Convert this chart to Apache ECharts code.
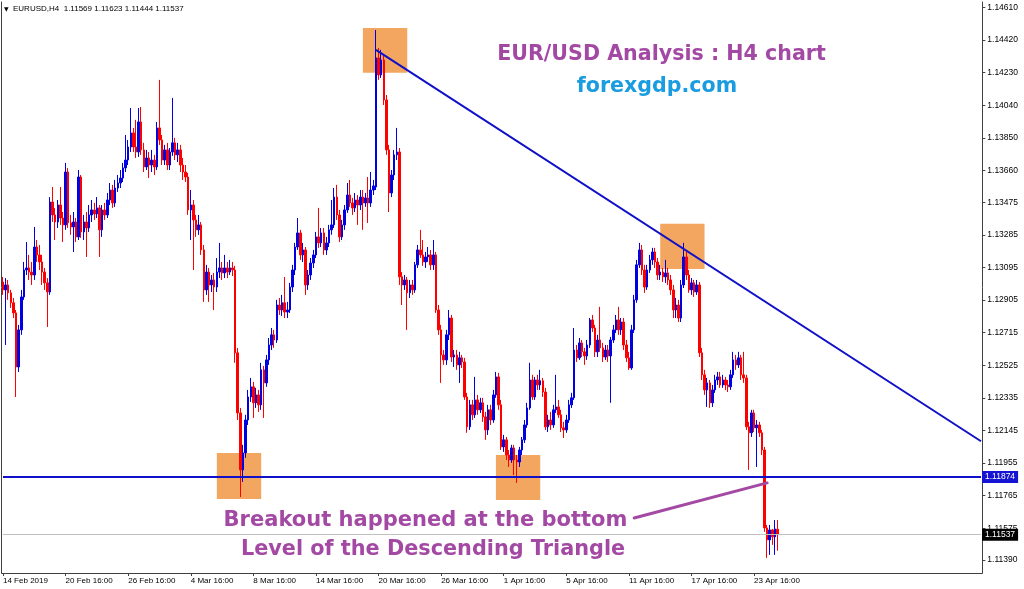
<!DOCTYPE html>
<html><head><meta charset="utf-8">
<script src="https://cdn.jsdelivr.net/npm/echarts@6/dist/echarts.min.js"></script>
<style>html,body{margin:0;padding:0;background:#fff}#main{width:1024px;height:589px}</style>
</head><body><div id="main"></div>
<script>
// ---- DATA (EURUSD H4) ----
const symbolInfo = 'EURUSD,H4';
const opens = [1.13010,1.12964,1.12993,1.12947,1.12889,1.12830,1.12515,1.12731,1.12923,1.13080,1.13092,1.13068,1.13051,1.13214,1.13168,1.13127,1.13068,1.13005,1.12952,1.13476,
1.13401,1.13360,1.13459,1.13383,1.13343,1.13651,1.13355,1.13331,1.13360,1.13273,1.13622,1.13302,1.13360,1.13325,1.13401,1.13430,1.13407,1.13442,1.13314,1.13430,
1.13401,1.13488,1.13546,1.13471,1.13558,1.13587,1.13616,1.13675,1.13721,1.13797,1.13879,1.13797,1.13768,1.13943,1.13780,1.13681,1.13733,1.13692,1.13721,1.13681,
1.13908,1.13838,1.13721,1.13780,1.13692,1.13768,1.13821,1.13751,1.13780,1.13692,1.13651,1.13622,1.13430,1.13459,1.13372,1.13314,1.13343,1.13197,1.12964,1.13068,
1.12993,1.13022,1.12981,1.13068,1.13092,1.13063,1.13092,1.13068,1.13092,1.13080,1.12597,1.12247,1.11915,1.12014,1.12206,1.12340,1.12399,1.12306,1.12352,1.12294,
1.12498,1.12422,1.12556,1.12643,1.12702,1.12672,1.12876,1.12847,1.12889,1.12835,1.12847,1.12981,1.13080,1.13214,1.13296,1.13168,1.13197,1.12993,1.13051,1.13121,
1.13168,1.13273,1.13238,1.13296,1.13197,1.13238,1.13314,1.13343,1.13505,1.13401,1.13273,1.13343,1.13430,1.13517,1.13471,1.13442,1.13488,1.13459,1.13505,1.13471,
1.13500,1.13471,1.13546,1.13564,1.14316,1.14217,1.14304,1.14071,1.13780,1.13529,1.13634,1.13751,1.13768,1.13040,1.12993,1.13022,1.12947,1.12993,1.12964,1.13110,
1.13197,1.13168,1.13127,1.13156,1.13168,1.13110,1.13168,1.12847,1.12731,1.12585,1.12556,1.12702,1.12800,1.12573,1.12585,1.12527,1.12568,1.12544,1.12340,1.12166,
1.12294,1.12236,1.12323,1.12265,1.12306,1.12224,1.12148,1.12265,1.12206,1.12352,1.12457,1.12294,1.12049,1.12090,1.12002,1.11973,1.12043,1.11973,1.11961,1.12031,
1.12090,1.12177,1.12276,1.12439,1.12340,1.12439,1.12410,1.12434,1.12369,1.12166,1.12206,1.12177,1.12265,1.12282,1.12236,1.12160,1.12148,1.12206,1.12294,1.12335,
1.12614,1.12568,1.12655,1.12603,1.12579,1.12643,1.12789,1.12742,1.12603,1.12672,1.12626,1.12573,1.12614,1.12579,1.12672,1.12731,1.12789,1.12731,1.12777,1.12643,
1.12568,1.12509,1.12731,1.12906,1.13110,1.13197,1.13080,1.12981,1.13080,1.13139,1.13185,1.13127,1.13051,1.13068,1.13040,1.13063,1.13022,1.12964,1.12847,1.12876,
1.12800,1.12993,1.13156,1.13051,1.12964,1.13005,1.12952,1.12993,1.12597,1.12469,1.12381,1.12422,1.12306,1.12381,1.12439,1.12457,1.12410,1.12439,1.12410,1.12399,
1.12469,1.12556,1.12527,1.12568,1.12469,1.12451,1.12166,1.12131,1.12247,1.12160,1.12177,1.12131,1.12031,1.11577,1.11507,1.11565,1.11525,1.11569];
const closes = [1.12964,1.12993,1.12947,1.12889,1.12830,1.12515,1.12731,1.12923,1.13080,1.13092,1.13068,1.13051,1.13214,1.13168,1.13127,1.13068,1.13005,1.12952,1.13476,1.13401,
1.13360,1.13459,1.13383,1.13343,1.13651,1.13355,1.13331,1.13360,1.13273,1.13622,1.13302,1.13360,1.13325,1.13401,1.13430,1.13407,1.13442,1.13314,1.13430,1.13401,
1.13488,1.13546,1.13471,1.13558,1.13587,1.13616,1.13675,1.13721,1.13797,1.13879,1.13797,1.13768,1.13943,1.13780,1.13681,1.13733,1.13692,1.13721,1.13681,1.13908,
1.13838,1.13721,1.13780,1.13692,1.13768,1.13821,1.13751,1.13780,1.13692,1.13651,1.13622,1.13430,1.13459,1.13372,1.13314,1.13343,1.13197,1.12964,1.13068,1.12993,
1.13022,1.12981,1.13068,1.13092,1.13063,1.13092,1.13068,1.13092,1.13080,1.12597,1.12247,1.11915,1.12014,1.12206,1.12340,1.12399,1.12306,1.12352,1.12294,1.12498,
1.12422,1.12556,1.12643,1.12702,1.12672,1.12876,1.12847,1.12889,1.12835,1.12847,1.12981,1.13080,1.13214,1.13296,1.13168,1.13197,1.12993,1.13051,1.13121,1.13168,
1.13273,1.13238,1.13296,1.13197,1.13238,1.13314,1.13343,1.13505,1.13401,1.13273,1.13343,1.13430,1.13517,1.13471,1.13442,1.13488,1.13459,1.13505,1.13471,1.13500,
1.13471,1.13546,1.13570,1.14316,1.14217,1.14304,1.14071,1.13780,1.13529,1.13634,1.13751,1.13768,1.13040,1.12993,1.13022,1.12947,1.12993,1.12964,1.13110,1.13197,
1.13168,1.13127,1.13156,1.13168,1.13110,1.13168,1.12847,1.12731,1.12585,1.12556,1.12702,1.12800,1.12573,1.12585,1.12527,1.12568,1.12544,1.12340,1.12166,1.12294,
1.12236,1.12323,1.12265,1.12306,1.12224,1.12148,1.12265,1.12206,1.12352,1.12457,1.12294,1.12049,1.12090,1.12002,1.11973,1.12043,1.11973,1.11961,1.12031,1.12090,
1.12177,1.12276,1.12439,1.12340,1.12439,1.12410,1.12434,1.12369,1.12166,1.12206,1.12177,1.12265,1.12282,1.12236,1.12160,1.12148,1.12206,1.12294,1.12335,1.12614,
1.12568,1.12655,1.12603,1.12579,1.12643,1.12789,1.12742,1.12603,1.12672,1.12626,1.12573,1.12614,1.12579,1.12672,1.12731,1.12789,1.12731,1.12777,1.12643,1.12568,
1.12509,1.12731,1.12906,1.13110,1.13197,1.13080,1.12981,1.13080,1.13139,1.13185,1.13127,1.13051,1.13068,1.13040,1.13063,1.13022,1.12964,1.12847,1.12876,1.12800,
1.12993,1.13156,1.13051,1.12964,1.13005,1.12952,1.12993,1.12597,1.12469,1.12381,1.12422,1.12306,1.12381,1.12439,1.12457,1.12410,1.12439,1.12410,1.12399,1.12469,
1.12556,1.12527,1.12568,1.12469,1.12451,1.12166,1.12131,1.12247,1.12160,1.12177,1.12131,1.12031,1.11577,1.11507,1.11565,1.11525,1.11571,1.11537];
const highs = [1.13039,1.13033,1.13022,1.12964,1.12917,1.12847,1.12760,1.12964,1.13127,1.13243,1.13168,1.13127,1.13331,1.13255,1.13226,1.13168,1.13092,1.13033,1.13505,1.13564,
1.13441,1.13488,1.13564,1.13418,1.13704,1.13674,1.13401,1.13418,1.13383,1.13663,1.13634,1.13401,1.13418,1.13459,1.13488,1.13471,1.13505,1.13459,1.13459,1.13471,
1.13529,1.13587,1.13576,1.13605,1.13634,1.13663,1.13704,1.13867,1.13838,1.14024,1.13908,1.13955,1.14024,1.14030,1.13821,1.13780,1.13768,1.13780,1.13751,1.13943,
1.14188,1.13867,1.13809,1.13821,1.13791,1.14083,1.13850,1.13821,1.13809,1.13733,1.13692,1.13646,1.13546,1.13488,1.13401,1.13401,1.13360,1.13226,1.13110,1.13092,
1.13051,1.13063,1.13150,1.13238,1.13127,1.13168,1.13127,1.13139,1.13127,1.13104,1.12626,1.12276,1.12061,1.12236,1.12381,1.12451,1.12428,1.12393,1.12381,1.12539,
1.12521,1.12585,1.12684,1.12742,1.12731,1.12906,1.12917,1.12935,1.13039,1.12894,1.13005,1.13110,1.13238,1.13383,1.13314,1.13238,1.13214,1.13080,1.13150,1.13197,
1.13302,1.13442,1.13325,1.13325,1.13273,1.13343,1.13488,1.13558,1.13576,1.13430,1.13372,1.13459,1.13587,1.13605,1.13500,1.13529,1.13517,1.13546,1.13546,1.13529,
1.13622,1.13651,1.13605,1.14479,1.14374,1.14363,1.14333,1.14100,1.13809,1.13663,1.13780,1.13908,1.13791,1.13068,1.13051,1.13040,1.13022,1.13022,1.13127,1.13226,
1.13314,1.13255,1.13185,1.13214,1.13197,1.13255,1.13185,1.12876,1.12760,1.12614,1.12731,1.12847,1.12818,1.12614,1.12614,1.12603,1.12585,1.12568,1.12364,1.12323,
1.12323,1.12457,1.12352,1.12335,1.12335,1.12253,1.12294,1.12294,1.12381,1.12486,1.12480,1.12323,1.12119,1.12107,1.12031,1.12061,1.12061,1.12002,1.12049,1.12107,
1.12206,1.12306,1.12539,1.12469,1.12457,1.12469,1.12498,1.12451,1.12393,1.12236,1.12253,1.12294,1.12469,1.12323,1.12265,1.12195,1.12236,1.12323,1.12364,1.12742,
1.12643,1.12684,1.12672,1.12626,1.12672,1.12800,1.12818,1.12760,1.12702,1.12865,1.12655,1.12643,1.12643,1.12690,1.12760,1.12818,1.12865,1.12800,1.12800,1.12672,
1.12603,1.12760,1.12935,1.13139,1.13238,1.13226,1.13110,1.13110,1.13168,1.13209,1.13209,1.13150,1.13110,1.13092,1.13139,1.13092,1.13051,1.12993,1.12917,1.12906,
1.13022,1.13238,1.13185,1.13080,1.13033,1.13022,1.13022,1.13010,1.12626,1.12498,1.12451,1.12439,1.12410,1.12469,1.12486,1.12486,1.12469,1.12457,1.12439,1.12498,
1.12603,1.12585,1.12603,1.12585,1.12603,1.12469,1.12195,1.12265,1.12265,1.12206,1.12195,1.12148,1.12049,1.11594,1.11594,1.11571,1.11623,1.11623];
const lows = [1.12935,1.12643,1.12906,1.12859,1.12800,1.12340,1.12486,1.12702,1.12906,1.13051,1.13022,1.12993,1.13022,1.13127,1.13080,1.12993,1.12964,1.12748,1.12935,1.13360,
1.13255,1.13325,1.13343,1.13243,1.13314,1.13325,1.13285,1.13185,1.13243,1.13255,1.13267,1.13255,1.13156,1.13302,1.13360,1.13372,1.13383,1.13156,1.13273,1.13372,
1.13383,1.13459,1.13442,1.13448,1.13535,1.13558,1.13593,1.13651,1.13692,1.13768,1.13768,1.13733,1.13739,1.13751,1.13651,1.13663,1.13616,1.13651,1.13634,1.13663,
1.13809,1.13692,1.13692,1.13663,1.13663,1.13745,1.13721,1.13709,1.13651,1.13605,1.13593,1.13401,1.13255,1.13080,1.13273,1.13285,1.13168,1.12894,1.12935,1.12894,
1.12952,1.12847,1.12952,1.13033,1.13022,1.13033,1.13033,1.13051,1.13045,1.12539,1.12206,1.11757,1.11845,1.11985,1.12177,1.12311,1.12218,1.12276,1.12253,1.12265,
1.12218,1.12399,1.12527,1.12614,1.12626,1.12655,1.12818,1.12812,1.12800,1.12800,1.12830,1.12952,1.13051,1.13197,1.13139,1.13127,1.12935,1.12964,1.13022,1.13092,
1.13150,1.13209,1.13214,1.13168,1.13168,1.13214,1.13285,1.13325,1.13372,1.13243,1.13255,1.13314,1.13413,1.13448,1.13401,1.13418,1.13343,1.13430,1.13314,1.13448,
1.13354,1.13448,1.13517,1.13546,1.14188,1.14199,1.14042,1.13751,1.13418,1.13505,1.13605,1.13721,1.12993,1.12876,1.12964,1.12731,1.12917,1.12935,1.12947,1.13092,
1.13150,1.13104,1.13092,1.13127,1.13080,1.13080,1.12830,1.12702,1.12422,1.12527,1.12527,1.12672,1.12544,1.12515,1.12498,1.12422,1.12509,1.12323,1.12131,1.12148,
1.12206,1.12218,1.12236,1.12247,1.12195,1.12090,1.12119,1.12177,1.12189,1.12335,1.12265,1.12031,1.12020,1.11973,1.11932,1.11956,1.11885,1.11839,1.11932,1.12002,
1.12072,1.12160,1.12265,1.12323,1.12323,1.12381,1.12381,1.12340,1.12148,1.12136,1.12148,1.12160,1.12247,1.12218,1.12136,1.12101,1.12131,1.12189,1.12276,1.12323,
1.12544,1.12556,1.12573,1.12527,1.12556,1.12626,1.12719,1.12573,1.12573,1.12603,1.12544,1.12556,1.12544,1.12306,1.12655,1.12713,1.12702,1.12702,1.12614,1.12544,
1.12498,1.12498,1.12713,1.12889,1.13092,1.13051,1.12947,1.12964,1.13063,1.13110,1.13092,1.13022,1.13022,1.13010,1.13005,1.12993,1.12935,1.12800,1.12800,1.12777,
1.12777,1.12975,1.13022,1.12947,1.12935,1.12923,1.12935,1.12573,1.12439,1.12352,1.12282,1.12276,1.12282,1.12364,1.12410,1.12393,1.12393,1.12381,1.12369,1.12381,
1.12451,1.12498,1.12509,1.12439,1.12422,1.12148,1.11915,1.12107,1.12136,1.11932,1.12107,1.12002,1.11554,1.11402,1.11420,1.11478,1.11420,1.11444];

// axis texts
const xLabels = ['14 Feb 2019','20 Feb 16:00','26 Feb 16:00','4 Mar 16:00','8 Mar 16:00','14 Mar 16:00','20 Mar 16:00','26 Mar 16:00','1 Apr 16:00','5 Apr 16:00','11 Apr 16:00','17 Apr 16:00','23 Apr 16:00'];
const barsPerLabel = 24;
const slotCount = 376;           // bars + empty chart-shift space on the right
const yTicks = [1.11390,1.11575,1.11765,1.11955,1.12145,1.12335,1.12525,1.12715,1.12905,1.13095,1.13285,1.13475,1.13660,1.13850,1.14040,1.14230,1.14420,1.14610];
const priceMin = 1.11314, priceMax = 1.14642;

// annotations
const supportLevel = 1.11874;
const bidPrice = 1.11537;
const trendStart = [143, 1.14363], trendEnd = [375, 1.12082];
const arrowStart = [242, 1.11635], arrowEnd = [293, 1.11839];
const boxes = [[138,1.14491,155,1.14229],[82,1.12014,99,1.11746],[189,1.12002,206,1.11740],[252,1.13349,269,1.13086]];
const titleText = 'EUR/USD Analysis : H4 chart';
const siteText = 'forexgdp.com';
const note1 = 'Breakout happened at the bottom';
const note2 = 'Level of the Descending Triangle';

// ---- CHART ----
const cats = Array.from({length: slotCount}, (_, i) => String(i));
const candles = opens.map((o, i) => [o, closes[i], lows[i], highs[i]]);
const last = opens.length - 1;
const lastSlot = slotCount - 1;
const header = symbolInfo + '  ' + [opens[last], highs[last], lows[last], closes[last]].map(v => v.toFixed(5)).join(' ');
const showIdx = i => i % barsPerLabel === 0 && i / barsPerLabel < xLabels.length;
const tagLabel = bg => ({show: true, position: 'end', distance: 1, formatter: () => '', backgroundColor: bg, color: '#fff',
  padding: [2, 3, 1, 3], fontSize: 8.5, fontFamily: 'Liberation Sans'});

const chart = echarts.init(document.getElementById('main'));
chart.setOption({
  animation: false,
  backgroundColor: '#ffffff',
  grid: {left: 1.4, top: 2, width: 980.9, height: 571},
  xAxis: {
    type: 'category', data: cats, boundaryGap: true,
    axisLine: {show: true, onZero: false, lineStyle: {color: '#404040', width: 1}},
    axisTick: {show: true, interval: showIdx, alignWithLabel: true, length: 3, lineStyle: {color: '#404040'}},
    axisLabel: {interval: showIdx, formatter: (v, i) => xLabels[Math.round(i / barsPerLabel)] || '', align: 'left', margin: 4,
      fontSize: 8, fontFamily: 'Liberation Sans', color: '#000'},
    splitLine: {show: false}
  },
  yAxis: [{
    type: 'value', position: 'right', min: priceMin, max: priceMax, scale: true,
    axisLine: {show: true, lineStyle: {color: '#404040', width: 1}},
    axisTick: {show: true, length: 3, customValues: yTicks, lineStyle: {color: '#404040'}},
    axisLabel: {customValues: yTicks, formatter: v => Number(v).toFixed(5), margin: 5, fontSize: 8.5, fontFamily: 'Liberation Sans', color: '#000'},
    splitLine: {show: false}
  }, {
    type: 'value', position: 'left', min: priceMin, max: priceMax, scale: true,
    axisLine: {show: true, lineStyle: {color: '#404040', width: 1}},
    axisTick: {show: false}, axisLabel: {show: false}, splitLine: {show: false}
  }],
  series: [{
    type: 'line', data: [], z: 1, silent: true,
    markLine: {
      silent: true, symbol: 'none',
      data: [[{coord: [0, bidPrice], lineStyle: {color: '#c0c0c0', width: 1, type: 'solid'},
               label: Object.assign(tagLabel('#000'), {formatter: bidPrice.toFixed(5)})},
              {coord: [lastSlot, bidPrice]}]]
    }
  }, {
    type: 'candlestick', data: candles, barWidth: 2, z: 2,
    itemStyle: {color: '#0000e0', color0: '#ff0000', borderColor: '#0000e0', borderColor0: '#ff0000', borderWidth: 1}
  }, {
    type: 'line', data: [], z: 3, silent: true,
    markArea: {silent: true, itemStyle: {color: 'rgba(238,136,43,0.75)'},
      data: boxes.map(b => [{coord: [b[0], b[1]]}, {coord: [b[2], b[3]]}])}
  }, {
    type: 'line', data: [], z: 4, silent: true,
    markLine: {
      silent: true, symbol: 'none',
      data: [
        [{coord: trendStart, lineStyle: {color: '#1010c8', width: 2, type: 'solid'}, label: {show: false}}, {coord: trendEnd}],
        [{coord: [0, supportLevel], lineStyle: {color: '#1010c8', width: 2, type: 'solid'},
          label: Object.assign(tagLabel('#1414d2'), {formatter: supportLevel.toFixed(5)})},
         {coord: [lastSlot, supportLevel]}],
        [{coord: arrowStart, lineStyle: {color: '#a349a4', width: 3, type: 'solid', cap: 'round'}, label: {show: false}}, {coord: arrowEnd}]
      ]
    }
  }],
  graphic: [
    {type: 'text', x: 4, y: 9, z: 100, style: {text: '▼', font: '6px "DejaVu Sans"', fill: '#000', align: 'left', verticalAlign: 'middle'}},
    {type: 'text', x: 13, y: 9, z: 100, style: {text: header, font: '8px "Liberation Sans"', fill: '#000', align: 'left', verticalAlign: 'middle'}},
    {type: 'text', x: 661.5, y: 55, z: 100, style: {text: titleText, font: 'bold 20.6px "DejaVu Sans"', fill: '#a349a4', align: 'center', verticalAlign: 'middle'}},
    {type: 'text', x: 657, y: 87, z: 100, style: {text: siteText, font: 'bold 20.6px "DejaVu Sans"', fill: '#1a9de0', align: 'center', verticalAlign: 'middle'}},
    {type: 'text', x: 425.5, y: 521, z: 100, style: {text: note1, font: 'bold 21px "DejaVu Sans"', fill: '#a349a4', align: 'center', verticalAlign: 'middle'}},
    {type: 'text', x: 433, y: 550, z: 100, style: {text: note2, font: 'bold 20.8px "DejaVu Sans"', fill: '#a349a4', align: 'center', verticalAlign: 'middle'}}
  ]
});
</script></body></html>
